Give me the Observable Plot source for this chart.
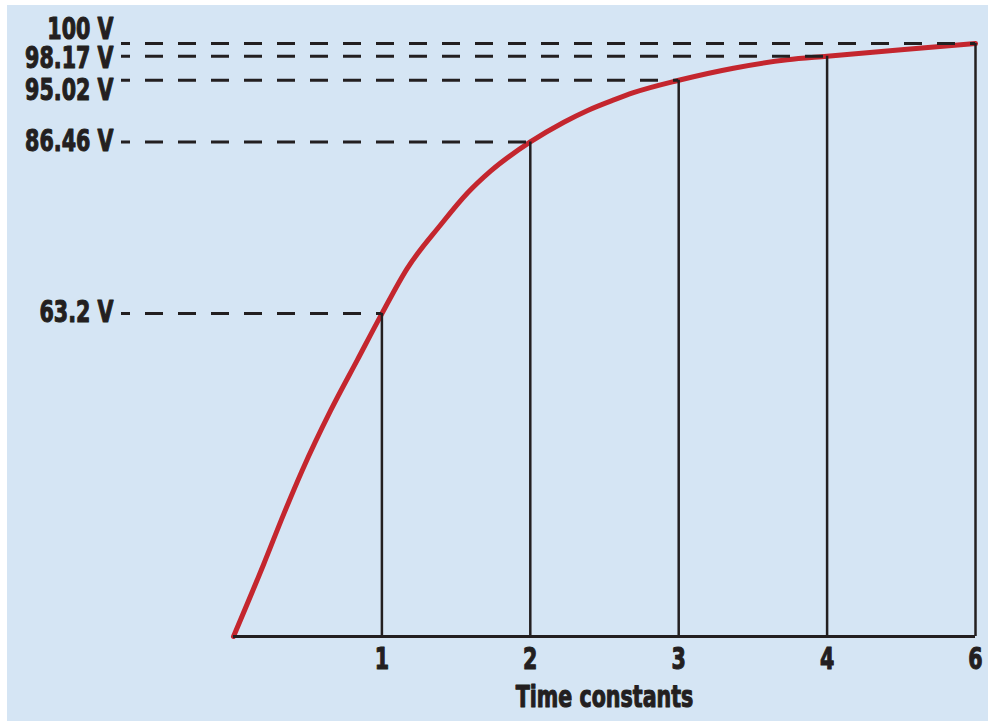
<!DOCTYPE html>
<html>
<head>
<meta charset="utf-8">
<script src="https://cdn.jsdelivr.net/npm/d3@7"></script>
<script src="https://cdn.jsdelivr.net/npm/@observablehq/plot@0.6"></script>
<style>
  html, body { margin: 0; background: #ffffff; }
  #chart { padding: 5px 0 0 7px; }
  svg text { font-family: "DejaVu Sans Condensed", "Liberation Sans Narrow", sans-serif; font-weight: bold; }
</style>
</head>
<body>
<div id="chart"></div>
<script>
// ---- data ----
const timeTicks = [1, 2, 3, 4, 6];
const tickLabels = ["1", "2", "3", "4", "6"];
const levelVolts = [63.2, 86.46, 95.02, 98.17, 100];
const levelLabels = ["63.2 V", "86.46 V", "95.02 V", "98.17 V", "100 V"];
const curveTime  = [0, 0.204, 0.339, 0.463, 0.654, 0.834, 1, 1.17, 1.395, 1.575, 1.732, 2, 2.226, 2.383, 2.563, 2.695, 3, 3.369, 3.731, 4, 5, 6];
const curveVolts = [0, 14.2, 24.0, 32.5, 44.2, 54.1, 63.2, 69.3, 75.2, 79.5, 82.5, 86.46, 89.2, 90.8, 92.3, 93.3, 95.02, 96.6, 97.7, 98.17, 99.1, 100];
const xLabel = "Time constants";

// ---- tables built from the arrays ----
const levels = timeTicks.map((t, i) => ({t, v: levelVolts[i], label: levelLabels[i], tick: tickLabels[i]}));
const curve = curveTime.map((t, i) => ({t, v: curveVolts[i]}));

// ---- layout / scale configuration ----
const W = 981, H = 716, mL = 226, mR = 13, mT = 38, mB = 85;
const innerW = W - mL - mR, innerH = H - mT - mB;
const xBreaks = [0, ...timeTicks];
const xRange = xBreaks.map((_, i) => mL + i * innerW / (xBreaks.length - 1)); // evenly spaced ticks
const yBreaks = [0, ...levelVolts];
const yShare = [0, 0.5445, 0.834, 0.938, 0.9786, 1]; // the drawing's non-linear vertical placement
const yRange = yShare.map(s => H - mB - s * innerH);

const dark = "#231f20", red = "#c4262e", bg = "#d5e5f4";
const labelNudge = {100: -14, 98.17: 2, 95.02: 10, 86.46: -1, 63.2: -2};
const fontSize = 31, squeeze = 0.74;
const textStyle = {fill: dark, stroke: dark, strokeWidth: 1.1, fontSize};

const plot = Plot.plot({
  width: W, height: H,
  marginLeft: mL, marginRight: mR, marginTop: mT, marginBottom: mB,
  style: {background: bg, overflow: "visible"},
  x: {type: "linear", domain: xBreaks, range: xRange, axis: null},
  y: {type: "linear", domain: yBreaks, range: yRange, axis: null},
  marks: [
    Plot.line(curve, {x: "t", y: "v", stroke: red, strokeWidth: 5, strokeLinecap: "round", strokeLinejoin: "round", curve: "monotone-x"}),
    Plot.ruleX(levels, {x: "t", y1: 0, y2: "v", stroke: dark, strokeWidth: 2.5}),
    Plot.ruleY(levels, {y: "v", x1: 0, x2: "t", insetLeft: -112, stroke: dark, strokeWidth: 3, strokeDasharray: "18,15", strokeDashoffset: 9}),
    Plot.ruleY([0], {stroke: dark, strokeWidth: 3}),
    ...levels.map(d => Plot.text([d], {
      y: "v", text: "label", frameAnchor: "left", lineAnchor: "middle", dx: -120, dy: labelNudge[d.v] ?? 0,
      textAnchor: "end", ...textStyle
    })),
    Plot.text(levels, {x: "t", text: "tick", frameAnchor: "bottom", lineAnchor: "middle", dy: 23, ...textStyle}),
    Plot.text([xLabel], {text: d => d, frameAnchor: "bottom", lineAnchor: "middle", dy: 61, ...textStyle})
  ]
});

// condense the lettering horizontally, like the heavy narrow face of the original
plot.querySelectorAll("text").forEach(t => {
  const tr = t.getAttribute("transform") || "";
  t.setAttribute("transform", `${tr} scale(${squeeze},1)`);
});
document.getElementById("chart").appendChild(plot);
</script>
</body>
</html>
